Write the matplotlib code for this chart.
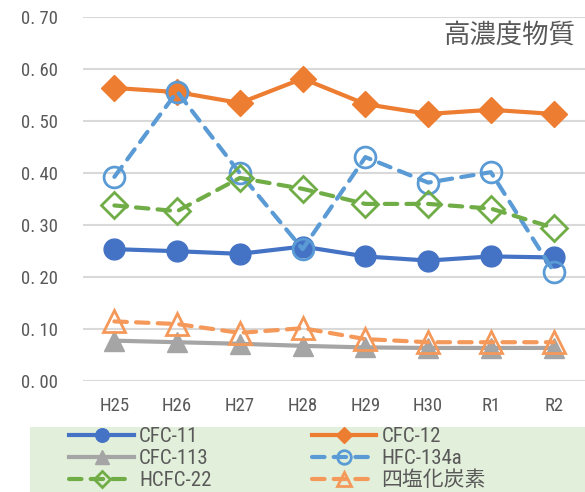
import numpy as np
import matplotlib
matplotlib.use("Agg")
import matplotlib.pyplot as plt
from matplotlib.patches import Rectangle

plt.rcParams['font.family'] = ['Roboto Condensed', 'Noto Sans CJK JP', 'DejaVu Sans']

years = ["H25", "H26", "H27", "H28", "H29", "H30", "R1", "R2"]
cfc11 = [0.253, 0.249, 0.244, 0.258, 0.239, 0.231, 0.239, 0.237]
cfc12 = [0.563, 0.555, 0.534, 0.581, 0.532, 0.513, 0.521, 0.513]
cfc113 = [0.077, 0.074, 0.071, 0.067, 0.064, 0.063, 0.063, 0.063]
hfc134a = [0.392, 0.556, 0.399, 0.253, 0.430, 0.381, 0.401, 0.210]
hcfc22 = [0.337, 0.326, 0.390, 0.369, 0.340, 0.340, 0.331, 0.294]
ccl4 = [0.114, 0.109, 0.092, 0.101, 0.080, 0.074, 0.074, 0.074]
yticks = [0.0, 0.1, 0.2, 0.3, 0.4, 0.5, 0.6, 0.7]

txt = "#595959"
fig = plt.figure(figsize=(5.85, 4.92), dpi=100)
ax = fig.add_axes([83/585, 111.3/492, 502/585, 364/492])
x = np.arange(len(years))

dash = dict(linestyle=(0, (3, 2.2)), dash_capstyle="round")
h1, = ax.plot(x, cfc11, color="#4472c4", lw=3, marker="o", ms=15, label="CFC-11", zorder=3)
h2, = ax.plot(x, cfc12, color="#ed7d31", lw=3, marker="D", ms=13, label="CFC-12", zorder=3)
h3, = ax.plot(x, cfc113, color="#a5a5a5", lw=3, marker="^", ms=15, label="CFC-113", zorder=3)
h4, = ax.plot(x, hfc134a, color="#5b9bd5", lw=3, marker="o", ms=15, mfc="none", mew=2,
              label="HFC-134a", zorder=4, **dash)
h5, = ax.plot(x, hcfc22, color="#70ad47", lw=3, marker="D", ms=13, mfc="none", mew=2,
              label="HCFC-22", zorder=4, **dash)
h6, = ax.plot(x, ccl4, color="#f4995a", lw=3, marker="^", ms=16, mfc="none", mew=2,
              label="四塩化炭素", zorder=4, **dash)

ax.set_xlim(-0.5, 7.5)
ax.set_ylim(0, 0.70)
ax.set_yticks(yticks)
ax.set_yticklabels(["0. %02d" % round(v * 100) for v in yticks])
ax.set_xticks(x)
ax.set_xticklabels(years)
ax.tick_params(length=0, labelsize=13.5, colors=txt, pad=12)
ax.tick_params(axis="y", pad=18)
ax.grid(axis="y", color="#d9d9d9", lw=1.5)
ax.set_axisbelow(True)
for s in ax.spines.values():
    s.set_visible(False)
for ln in ax.lines:
    ln.set_clip_on(False)

ax.text(0.98, 0.95, "高濃度物質", transform=ax.transAxes, ha="right", va="center",
        fontsize=19, color=txt, family=['Noto Sans CJK JP'])

fig.patches.append(Rectangle((30/585, 0), 555/585, 65/492, transform=fig.transFigure,
                             facecolor="#e2efda", edgecolor="none", zorder=0))
leg = fig.legend([h1, h3, h5, h2, h4, h6],
                 ["CFC-11", "CFC-113", "HCFC-22", "CFC-12", "HFC-134a", "四塩化炭素"],
                 ncol=2, loc="upper left", bbox_to_anchor=(59/585, 75/492),
                 frameon=False, fontsize=15, handlelength=3.1, handletextpad=0.25,
                 columnspacing=4.8, labelspacing=0.13, borderpad=0, markerscale=0.65)
for t in leg.get_texts():
    t.set_color(txt)

fig.savefig("out.png", dpi=100)
